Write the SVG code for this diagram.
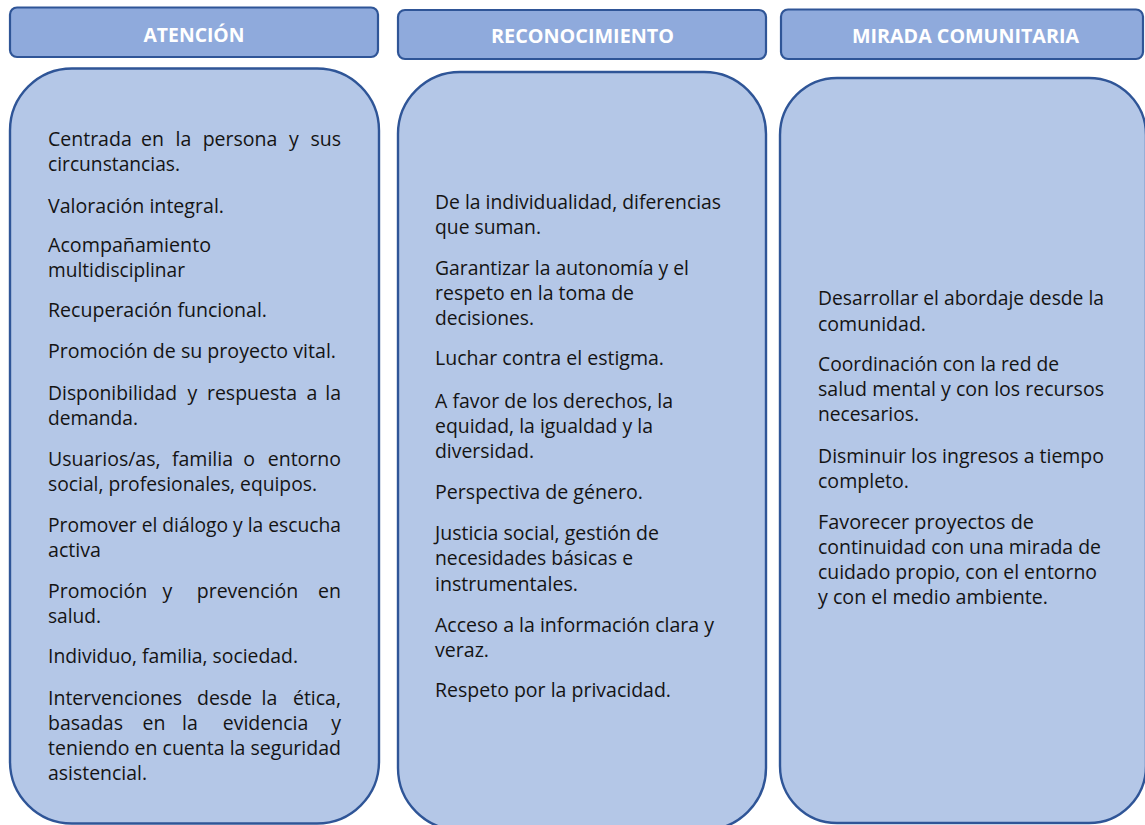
<svg xmlns="http://www.w3.org/2000/svg" width="1145" height="825" viewBox="0 0 1145 825">
<style>
.hdr{fill:#8FAADC;stroke:#2F5597;stroke-width:2.2}
.col{fill:#B4C7E7;stroke:#2F5597;stroke-width:2.4}
.ht{font-family:"Open Sans","Noto Sans",sans-serif;font-weight:bold;font-size:19.5px;fill:#FFFFFF;text-anchor:middle}
.t{font-family:"Open Sans","Noto Sans",sans-serif;font-size:19.5px;fill:#141414}
</style>
<rect width="1145" height="825" fill="#FFFFFF"/>
<g id="header-atencion">
<rect class="hdr" x="10" y="7.5" width="368" height="49.5" rx="7"/>
<text class="ht" x="194" y="41.5" textLength="101" lengthAdjust="spacingAndGlyphs">ATENCIÓN</text>
</g>
<g id="header-reconocimiento">
<rect class="hdr" x="398" y="10" width="368" height="49" rx="7"/>
<text class="ht" x="582.5" y="43" textLength="183" lengthAdjust="spacingAndGlyphs">RECONOCIMIENTO</text>
</g>
<g id="header-mirada">
<rect class="hdr" x="781" y="9.5" width="362" height="49.5" rx="7"/>
<text class="ht" x="965.5" y="43" textLength="227" lengthAdjust="spacingAndGlyphs">MIRADA COMUNITARIA</text>
</g>
<g id="connectors"/>
<g id="col-atencion">
<rect class="col" x="10" y="68.5" width="369" height="755" rx="62"/>
<text class="t" y="146"><tspan x="48">Centrada</tspan><tspan x="152.5" text-anchor="middle">en</tspan><tspan x="183.5" text-anchor="middle">la</tspan><tspan x="240" text-anchor="middle">persona</tspan><tspan x="294" text-anchor="middle">y</tspan><tspan x="341" text-anchor="end">sus</tspan></text>
<text class="t" x="48" y="171" textLength="132" lengthAdjust="spacingAndGlyphs">circunstancias.</text>
<text class="t" x="48" y="213" textLength="176" lengthAdjust="spacingAndGlyphs">Valoración integral.</text>
<text class="t" x="48" y="252" textLength="163" lengthAdjust="spacingAndGlyphs">Acompañamiento</text>
<text class="t" x="48" y="277" textLength="137" lengthAdjust="spacingAndGlyphs">multidisciplinar</text>
<text class="t" x="48" y="317" textLength="219" lengthAdjust="spacingAndGlyphs">Recuperación funcional.</text>
<text class="t" x="48" y="358" textLength="288" lengthAdjust="spacingAndGlyphs">Promoción de su proyecto vital.</text>
<text class="t" y="400"><tspan x="48" textLength="129" lengthAdjust="spacingAndGlyphs">Disponibilidad</tspan><tspan x="192.5" text-anchor="middle">y</tspan><tspan x="252" text-anchor="middle">respuesta</tspan><tspan x="312" text-anchor="middle">a</tspan><tspan x="341" text-anchor="end">la</tspan></text>
<text class="t" x="48" y="425" textLength="90" lengthAdjust="spacingAndGlyphs">demanda.</text>
<text class="t" y="466"><tspan x="48">Usuarios/as,</tspan><tspan x="202.5" text-anchor="middle">familia</tspan><tspan x="249" text-anchor="middle">o</tspan><tspan x="341" text-anchor="end">entorno</tspan></text>
<text class="t" x="48" y="491" textLength="269" lengthAdjust="spacingAndGlyphs">social, profesionales, equipos.</text>
<text class="t" x="48" y="532" textLength="293" lengthAdjust="spacingAndGlyphs">Promover el diálogo y la escucha</text>
<text class="t" x="48" y="557" textLength="53" lengthAdjust="spacingAndGlyphs">activa</text>
<text class="t" y="598"><tspan x="48">Promoción</tspan><tspan x="167.5" text-anchor="middle">y</tspan><tspan x="247.5" text-anchor="middle">prevención</tspan><tspan x="341" text-anchor="end">en</tspan></text>
<text class="t" x="48" y="623" textLength="53" lengthAdjust="spacingAndGlyphs">salud.</text>
<text class="t" x="48" y="663" textLength="250" lengthAdjust="spacingAndGlyphs">Individuo, familia, sociedad.</text>
<text class="t" y="705"><tspan x="48">Intervenciones</tspan><tspan x="224.5" text-anchor="middle">desde</tspan><tspan x="269.5" text-anchor="middle">la</tspan><tspan x="341" text-anchor="end">ética,</tspan></text>
<text class="t" y="730"><tspan x="48">basadas</tspan><tspan x="154" text-anchor="middle">en</tspan><tspan x="190" text-anchor="middle">la</tspan><tspan x="265.5" text-anchor="middle">evidencia</tspan><tspan x="341" text-anchor="end">y</tspan></text>
<text class="t" x="48" y="755" textLength="293" lengthAdjust="spacingAndGlyphs">teniendo en cuenta la seguridad</text>
<text class="t" x="48" y="780" textLength="99" lengthAdjust="spacingAndGlyphs">asistencial.</text>
</g>
<g id="col-reconocimiento">
<rect class="col" x="398" y="72" width="368" height="758" rx="62"/>
<text class="t" x="435" y="209" textLength="286" lengthAdjust="spacingAndGlyphs">De la individualidad, diferencias</text>
<text class="t" x="435" y="234" textLength="106" lengthAdjust="spacingAndGlyphs">que suman.</text>
<text class="t" x="435" y="275" textLength="254" lengthAdjust="spacingAndGlyphs">Garantizar la autonomía y el</text>
<text class="t" x="435" y="300" textLength="199" lengthAdjust="spacingAndGlyphs">respeto en la toma de</text>
<text class="t" x="435" y="325" textLength="99" lengthAdjust="spacingAndGlyphs">decisiones.</text>
<text class="t" x="435" y="365" textLength="229" lengthAdjust="spacingAndGlyphs">Luchar contra el estigma.</text>
<text class="t" x="435" y="408" textLength="238" lengthAdjust="spacingAndGlyphs">A favor de los derechos, la</text>
<text class="t" x="435" y="433" textLength="218" lengthAdjust="spacingAndGlyphs">equidad, la igualdad y la</text>
<text class="t" x="435" y="458" textLength="99" lengthAdjust="spacingAndGlyphs">diversidad.</text>
<text class="t" x="435" y="499" textLength="208" lengthAdjust="spacingAndGlyphs">Perspectiva de género.</text>
<text class="t" x="435" y="540" textLength="224" lengthAdjust="spacingAndGlyphs">Justicia social, gestión de</text>
<text class="t" x="435" y="565" textLength="198" lengthAdjust="spacingAndGlyphs">necesidades básicas e</text>
<text class="t" x="435" y="591" textLength="143" lengthAdjust="spacingAndGlyphs">instrumentales.</text>
<text class="t" x="435" y="632" textLength="279" lengthAdjust="spacingAndGlyphs">Acceso a la información clara y</text>
<text class="t" x="435" y="657" textLength="54" lengthAdjust="spacingAndGlyphs">veraz.</text>
<text class="t" x="435" y="697" textLength="236" lengthAdjust="spacingAndGlyphs">Respeto por la privacidad.</text>
</g>
<g id="col-mirada">
<rect class="col" x="780" y="78" width="366" height="745" rx="57"/>
<text class="t" x="818" y="305" textLength="286" lengthAdjust="spacingAndGlyphs">Desarrollar el abordaje desde la</text>
<text class="t" x="818" y="331" textLength="108" lengthAdjust="spacingAndGlyphs">comunidad.</text>
<text class="t" x="818" y="371" textLength="241" lengthAdjust="spacingAndGlyphs">Coordinación con la red de</text>
<text class="t" x="818" y="396" textLength="286" lengthAdjust="spacingAndGlyphs">salud mental y con los recursos</text>
<text class="t" x="818" y="421" textLength="101" lengthAdjust="spacingAndGlyphs">necesarios.</text>
<text class="t" x="818" y="463" textLength="286" lengthAdjust="spacingAndGlyphs">Disminuir los ingresos a tiempo</text>
<text class="t" x="818" y="488" textLength="91" lengthAdjust="spacingAndGlyphs">completo.</text>
<text class="t" x="818" y="529" textLength="216" lengthAdjust="spacingAndGlyphs">Favorecer proyectos de</text>
<text class="t" x="818" y="554" textLength="283" lengthAdjust="spacingAndGlyphs">continuidad con una mirada de</text>
<text class="t" x="818" y="579" textLength="279" lengthAdjust="spacingAndGlyphs">cuidado propio, con el entorno</text>
<text class="t" x="818" y="604" textLength="230" lengthAdjust="spacingAndGlyphs">y con el medio ambiente.</text>
</g>
</svg>
